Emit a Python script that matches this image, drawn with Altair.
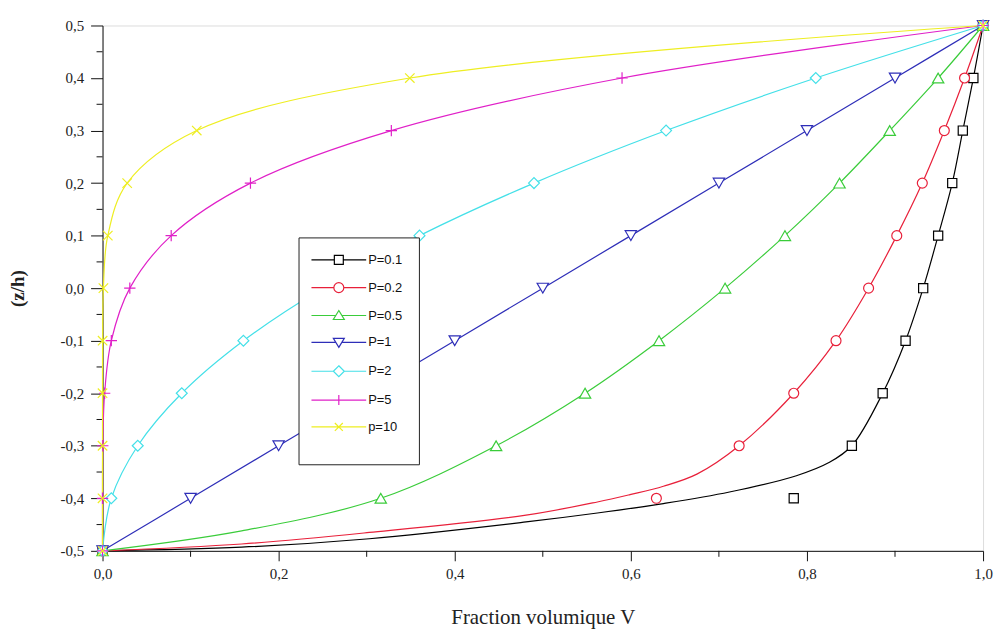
import altair as alt
import pandas as pd

# ---------------- data ----------------
series = ["P=0.1", "P=0.2", "P=0.5", "P=1", "P=2", "P=5", "p=10"]
colors = ["#000000", "#e8203a", "#3acc3a", "#2e2eb8", "#44e0e8", "#e020c8", "#eeee22"]

z_marks = [-0.5, -0.4, -0.3, -0.2, -0.1, 0.0, 0.1, 0.2, 0.3, 0.4, 0.5]

v_p01 = [0.0, 0.785, 0.851, 0.886, 0.912, 0.932, 0.949, 0.965, 0.977, 0.989, 1.0]
v_p02 = [0.0, 0.629, 0.723, 0.785, 0.833, 0.870, 0.902, 0.931, 0.956, 0.979, 1.0]
v_p05 = [0.0, 0.316, 0.447, 0.548, 0.632, 0.707, 0.775, 0.837, 0.894, 0.949, 1.0]
v_p1 = [0.0, 0.1, 0.2, 0.3, 0.4, 0.5, 0.6, 0.7, 0.8, 0.9, 1.0]
v_p2 = [0.0, 0.01, 0.04, 0.09, 0.16, 0.25, 0.36, 0.49, 0.64, 0.81, 1.0]
v_p5 = [0.0, 0.0, 0.0003, 0.0024, 0.01, 0.031, 0.078, 0.168, 0.328, 0.59, 1.0]
v_p10 = [0.0, 0.0, 0.0, 0.0, 0.0001, 0.001, 0.006, 0.028, 0.107, 0.349, 1.0]
marker_v = [v_p01, v_p02, v_p05, v_p1, v_p2, v_p5, v_p10]

# curves (where the drawn line departs from the markers)
curve_v_p01 = [0.0, 0.158, 0.303, 0.481, 0.562, 0.637, 0.712, 0.788, 0.825, 0.851,
               0.886, 0.912, 0.932, 0.949, 0.965, 0.977, 0.989, 1.0]
curve_z_p01 = [-0.5, -0.493, -0.477, -0.445, -0.428, -0.410, -0.388, -0.357, -0.332, -0.3,
               -0.2, -0.1, 0.0, 0.1, 0.2, 0.3, 0.4, 0.5]
curve_v_p02 = [0.0, 0.158, 0.303, 0.481, 0.562, 0.599, 0.637, 0.675, 0.723,
               0.785, 0.833, 0.870, 0.902, 0.931, 0.956, 0.979, 1.0]
curve_z_p02 = [-0.5, -0.487, -0.465, -0.432, -0.407, -0.393, -0.377, -0.354, -0.3,
               -0.2, -0.1, 0.0, 0.1, 0.2, 0.3, 0.4, 0.5]
curve_v_p05 = [0.0, 0.158, 0.316, 0.447, 0.548, 0.632, 0.707, 0.775, 0.837, 0.894, 0.949, 1.0]
curve_z_p05 = [-0.5, -0.462, -0.4, -0.3, -0.2, -0.1, 0.0, 0.1, 0.2, 0.3, 0.4, 0.5]

curve_v = [curve_v_p01, curve_v_p02, curve_v_p05, v_p1, v_p2, v_p5, v_p10]
curve_z = [curve_z_p01, curve_z_p02, curve_z_p05, z_marks, z_marks, z_marks, z_marks]

x_major = [0.0, 0.2, 0.4, 0.6, 0.8, 1.0]
x_minor = [0.1, 0.3, 0.5, 0.7, 0.9]
y_major = [-0.5, -0.4, -0.3, -0.2, -0.1, 0.0, 0.1, 0.2, 0.3, 0.4, 0.5]
y_minor = [-0.45, -0.35, -0.25, -0.15, -0.05, 0.05, 0.15, 0.25, 0.35, 0.45]

# ---------------- styles ----------------
plot_shapes = ["square", "circle", "triangle-up", "triangle-down", "diamond",
               "M-1,0H1M0,-1V1", "M-1,-1L1,1M-1,1L1,-1"]
plot_sizes = [85, 100, 130, 130, 120, 130, 90]
# legend symbols: marker with line stubs (unit = 5 px at symbolSize 100)
legend_shapes = [
    "M-5.5,0H-0.9M0.9,0H5.5M-0.9,-0.9H0.9V0.9H-0.9Z",
    "M-5.5,0H-1M1,0H5.5M-1,0A1,1,0,1,1,1,0A1,1,0,1,1,-1,0Z",
    "M-5.5,0H-0.6M0.6,0H5.5M0,-1L1.1,0.8L-1.1,0.8Z",
    "M-5.5,0H-0.6M0.6,0H5.5M0,1L1.1,-0.8L-1.1,-0.8Z",
    "M-5.5,0H-1.1M1.1,0H5.5M0,-1.1L1.1,0L0,1.1L-1.1,0Z",
    "M-5.5,0H5.5M0,-1V1",
    "M-5.5,0H5.5M-0.8,-0.8L0.8,0.8M-0.8,0.8L0.8,-0.8",
]

rows_line = []
for s, vs, zs in zip(series, curve_v, curve_z):
    for i, (v, z) in enumerate(zip(vs, zs)):
        rows_line.append({"serie": s, "V": v, "z": z, "ord": i})
df_line = pd.DataFrame(rows_line)

rows_mk = []
for s, vs in zip(series, marker_v):
    for v, z in zip(vs, z_marks):
        rows_mk.append({"serie": s, "V": v, "z": z})
df_mk = pd.DataFrame(rows_mk)

df_xminor = pd.DataFrame({"V": x_minor})
df_yminor = pd.DataFrame({"z": y_minor})

W, H = 885, 528
serif = "Liberation Serif"
sans = "Liberation Sans"
lab_expr = "replace(replace(format(datum.value, '.1f'), '.', ','), '\u2212', '-')"

x_scale = alt.Scale(domain=[0, 1], nice=False, zero=False)
y_scale = alt.Scale(domain=[-0.5, 0.5], nice=False, zero=False)
stroke_scale = alt.Scale(domain=series, range=colors)

x_axis = alt.Axis(values=x_major, tickSize=10, tickColor="#111", domainColor="#111",
                  labelFont=serif, labelFontSize=15, labelColor="#222", labelPadding=6,
                  labelFlush=False, labelExpr=lab_expr, grid=False,
                  title="Fraction volumique V",
                  titleFont=serif, titleFontSize=21, titleFontWeight="normal",
                  titleColor="#222", titlePadding=25)
y_axis = alt.Axis(values=y_major, tickSize=12, tickColor="#111", domainColor="#111",
                  labelFont=serif, labelFontSize=15, labelColor="#222", labelPadding=7,
                  labelFlush=False, labelExpr=lab_expr, grid=False, title="(z/h)",
                  titleFont=serif, titleFontSize=19, titleFontWeight="bold",
                  titleColor="#222", titlePadding=33)

lines = alt.Chart(df_line).mark_line(interpolate="catmull-rom", strokeWidth=1.2).encode(
    x=alt.X("V:Q", scale=x_scale, axis=x_axis),
    y=alt.Y("z:Q", scale=y_scale, axis=y_axis),
    stroke=alt.Stroke("serie:N", scale=stroke_scale, legend=None),
    order="ord:Q",
    detail="serie:N",
)

marker_layers = []
for s, shp, sz in zip(series, plot_shapes, plot_sizes):
    marker_layers.append(
        alt.Chart(df_mk).transform_filter(alt.datum.serie == s).mark_point(
            shape=shp, size=sz, filled=True, fill="white", strokeWidth=1.2, opacity=1
        ).encode(
            x=alt.X("V:Q", scale=x_scale),
            y=alt.Y("z:Q", scale=y_scale),
            stroke=alt.Stroke("serie:N", scale=stroke_scale, legend=None),
        )
    )

leg = alt.Legend(orient="none", legendX=197, legendY=213, title=" ", titleOrient="bottom",
                 titleFontSize=10, titlePadding=4,
                 fillColor="white", strokeColor="#222", padding=16,
                 symbolSize=100, symbolStrokeWidth=1.2, symbolFillColor="white",
                 symbolOffset=18, labelOffset=23,
                 labelFont=sans, labelFontSize=13, labelColor="#111",
                 rowPadding=13, direction="vertical")

legend_layer = alt.Chart(df_mk).transform_filter("false").mark_point(
    filled=True, fill="white", strokeWidth=1.2, opacity=1).encode(
    x=alt.X("V:Q", scale=x_scale),
    y=alt.Y("z:Q", scale=y_scale),
    stroke=alt.Stroke("serie:N", scale=stroke_scale, legend=leg),
    shape=alt.Shape("serie:N", scale=alt.Scale(domain=series, range=legend_shapes), legend=leg),
)

xminor = alt.Chart(df_xminor).mark_rule(color="#111", strokeWidth=1).encode(
    x=alt.X("V:Q", scale=x_scale),
    y=alt.value(H), y2=alt.value(H + 6),
)
yminor = alt.Chart(df_yminor).mark_rule(color="#111", strokeWidth=1).encode(
    y=alt.Y("z:Q", scale=y_scale),
    x=alt.value(-6), x2=alt.value(0),
)

chart = alt.layer(xminor, yminor, lines, *marker_layers, legend_layer).resolve_legend(
    stroke="independent", shape="independent"
).properties(
    width=W, height=H,
    padding={"left": 95, "top": 16, "right": 12, "bottom": 80},
    autosize=alt.AutoSizeParams(type="none"),
).configure_view(stroke="#222", strokeWidth=1).configure(background="white")

chart.save("out.html", embed_options={"renderer": "svg", "actions": False})
